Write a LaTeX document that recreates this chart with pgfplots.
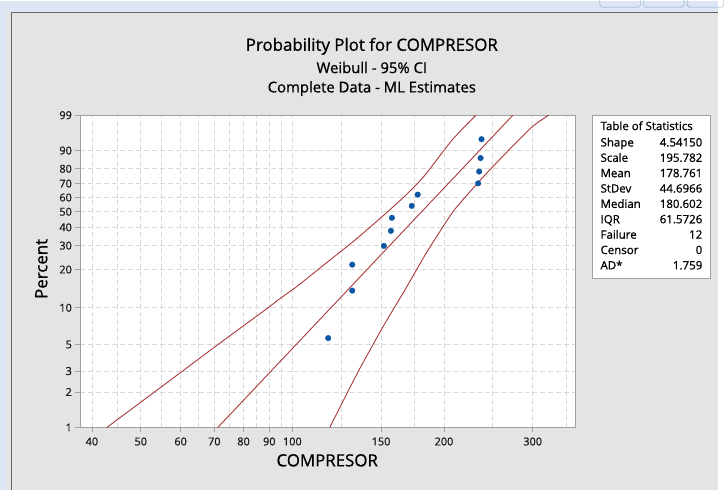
\documentclass[border=0pt]{standalone}
\usepackage{fontspec}
\setmainfont{Open Sans}[FakeBold=0.8]
\usepackage{pgfplots}
\pgfplotsset{compat=1.18}

\definecolor{bgblue}{HTML}{DCE6F4}
\definecolor{panel}{HTML}{E4E4E4}
\definecolor{framec}{HTML}{A0A0A0}
\definecolor{gridc}{HTML}{D8D8D8}
\definecolor{fitred}{HTML}{A8383A}
\definecolor{dotblue}{HTML}{0B56A4}
\definecolor{btn}{HTML}{8FA3C0}

% y axis is the Weibull scale: y = ln(-ln(1-p))
\begin{document}
\begin{tikzpicture}[x=1pt,y=1pt]
\fill[bgblue] (0,0) rectangle (724,-493);
\fill[panel] (6,-11) rectangle (724,-493);
\draw[black!60, line width=1.2pt] (11.5,-493) -- (11.5,-11) -- (724,-11);
\foreach \a/\b in {605/646,649/690,693/730}
  \draw[btn, rounded corners=2pt] (\a,1) -- (\a,-6) -- (\b,-6) -- (\b,1);

\node[anchor=base, font=\fontsize{17}{20}\selectfont] at (375,-50) {Probability Plot for COMPRESOR};
\node[anchor=base, font=\fontsize{15}{18}\selectfont] at (375,-72.5) {Weibull - 95\% CI};
\node[anchor=base, font=\fontsize{15}{18}\selectfont] at (375,-92) {Complete Data - ML Estimates};

\begin{axis}[
  at={(81pt,-115pt)}, anchor=north west,
  scale only axis, width=499pt, height=315pt,
  axis background/.style={fill=white},
  xmode=log,
  xmin=37.94, xmax=364.2,
  ymin=-4.60015, ymax=1.52718,
  xtick={40,50,60,70,80,90,100,150,200,300},
  xticklabels={40,50,60,70,80,90,100,150,200,300},
  minor xtick={45,55,65,75,85,95,125,175,250,350},
  ytick={-4.60015,-3.90194,-3.49137,-2.97020,-2.25037,-1.49994,-1.03093,-0.67172,-0.36651,-0.08742,0.18563,0.47588,0.83403,1.52718},
  yticklabels={1,2,3,5,10,20,30,40,50,60,70,80,90,99},
  xtick pos=bottom, ytick pos=left,
  tick align=outside,
  major tick length=5pt, minor tick length=0pt,
  tick style={framec, line width=0.8pt},
  axis line style={framec, line width=1pt},
  grid=both,
  major grid style={gridc, dash pattern=on 5pt off 3pt, line width=0.8pt},
  minor grid style={gridc, dash pattern=on 5pt off 3pt, line width=0.8pt},
  /pgf/number format/assume math mode=true,
  ticklabel style={font=\fontsize{11}{13}\selectfont, text=black!90},
  xticklabel style={yshift=-1.5pt},
  xlabel={COMPRESOR}, ylabel={Percent},
  every axis x label/.style={at={(axis description cs:0.499,-0.105)}, anchor=center, font=\fontsize{17}{20}\selectfont},
  every axis y label/.style={at={(axis description cs:-0.0788,0.508)}, rotate=90, anchor=center, font=\fontsize{17}{20}\selectfont},
  clip=true,
]
% upper 95% CI bound
\addplot[fitred, line width=0.9pt, smooth, tension=0.4] coordinates {
  (42.81,-4.600) (53.29,-3.900) (60.43,-3.497) (71.45,-2.960) (89.6,-2.246)
  (93.48,-2.104) (102.36,-1.824) (117.27,-1.357) (133.33,-0.918) (153.86,-0.385)
  (168.51,-0.029) (182.5,0.327) (207.6,1.041) (231.4,1.527)};
% fitted Weibull line (shape 4.5415, scale 195.782)
\addplot[fitred, line width=0.9pt] coordinates {(71.10,-4.60015) (274.0,1.52718)};
% lower 95% CI bound
\addplot[fitred, line width=0.9pt, smooth, tension=0.4] coordinates {
  (118.6,-4.600) (135.2,-3.497) (152.0,-2.591) (166.4,-1.941) (184.8,-1.163)
  (203.5,-0.515) (211.4,-0.288) (234.9,0.230) (265.2,0.782) (299.3,1.300) (322.7,1.527)};
% data, median ranks
\addplot[only marks, mark=*, mark size=2.8pt, dotblue] coordinates {
  (117.8,-2.8454) (131.5,-1.9142) (131.5,-1.4043) (152.0,-1.0374)
  (156.9,-0.7413) (157.6,-0.4852) (172.6,-0.2521) (177.4,-0.0303)
  (233.8,0.1901) (234.9,0.4216) (236.4,0.6867) (237.4,1.0559)};
\end{axis}

\draw[framec, fill=white] (597,-115) rectangle (716,-279);
\begin{scope}[font=\fontsize{11.6}{14}\selectfont]
\node[anchor=base west, inner sep=0pt] at (605.5,-130) {Table of Statistics};
\foreach \k/\lab/\val in {0/Shape/4.54150,1/Scale/195.782,2/Mean/178.761,3/StDev/44.6966,4/Median/180.602,5/IQR/61.5726,6/Failure/12,7/Censor/0,8/AD*/1.759}{
  \node[anchor=base west, inner sep=0pt] at (605.5,{-146.5-15.5*\k}) {\lab};
  \node[anchor=base east, inner sep=0pt] at (708.5,{-146.5-15.5*\k}) {\val};
}
\end{scope}
\end{tikzpicture}
\end{document}
